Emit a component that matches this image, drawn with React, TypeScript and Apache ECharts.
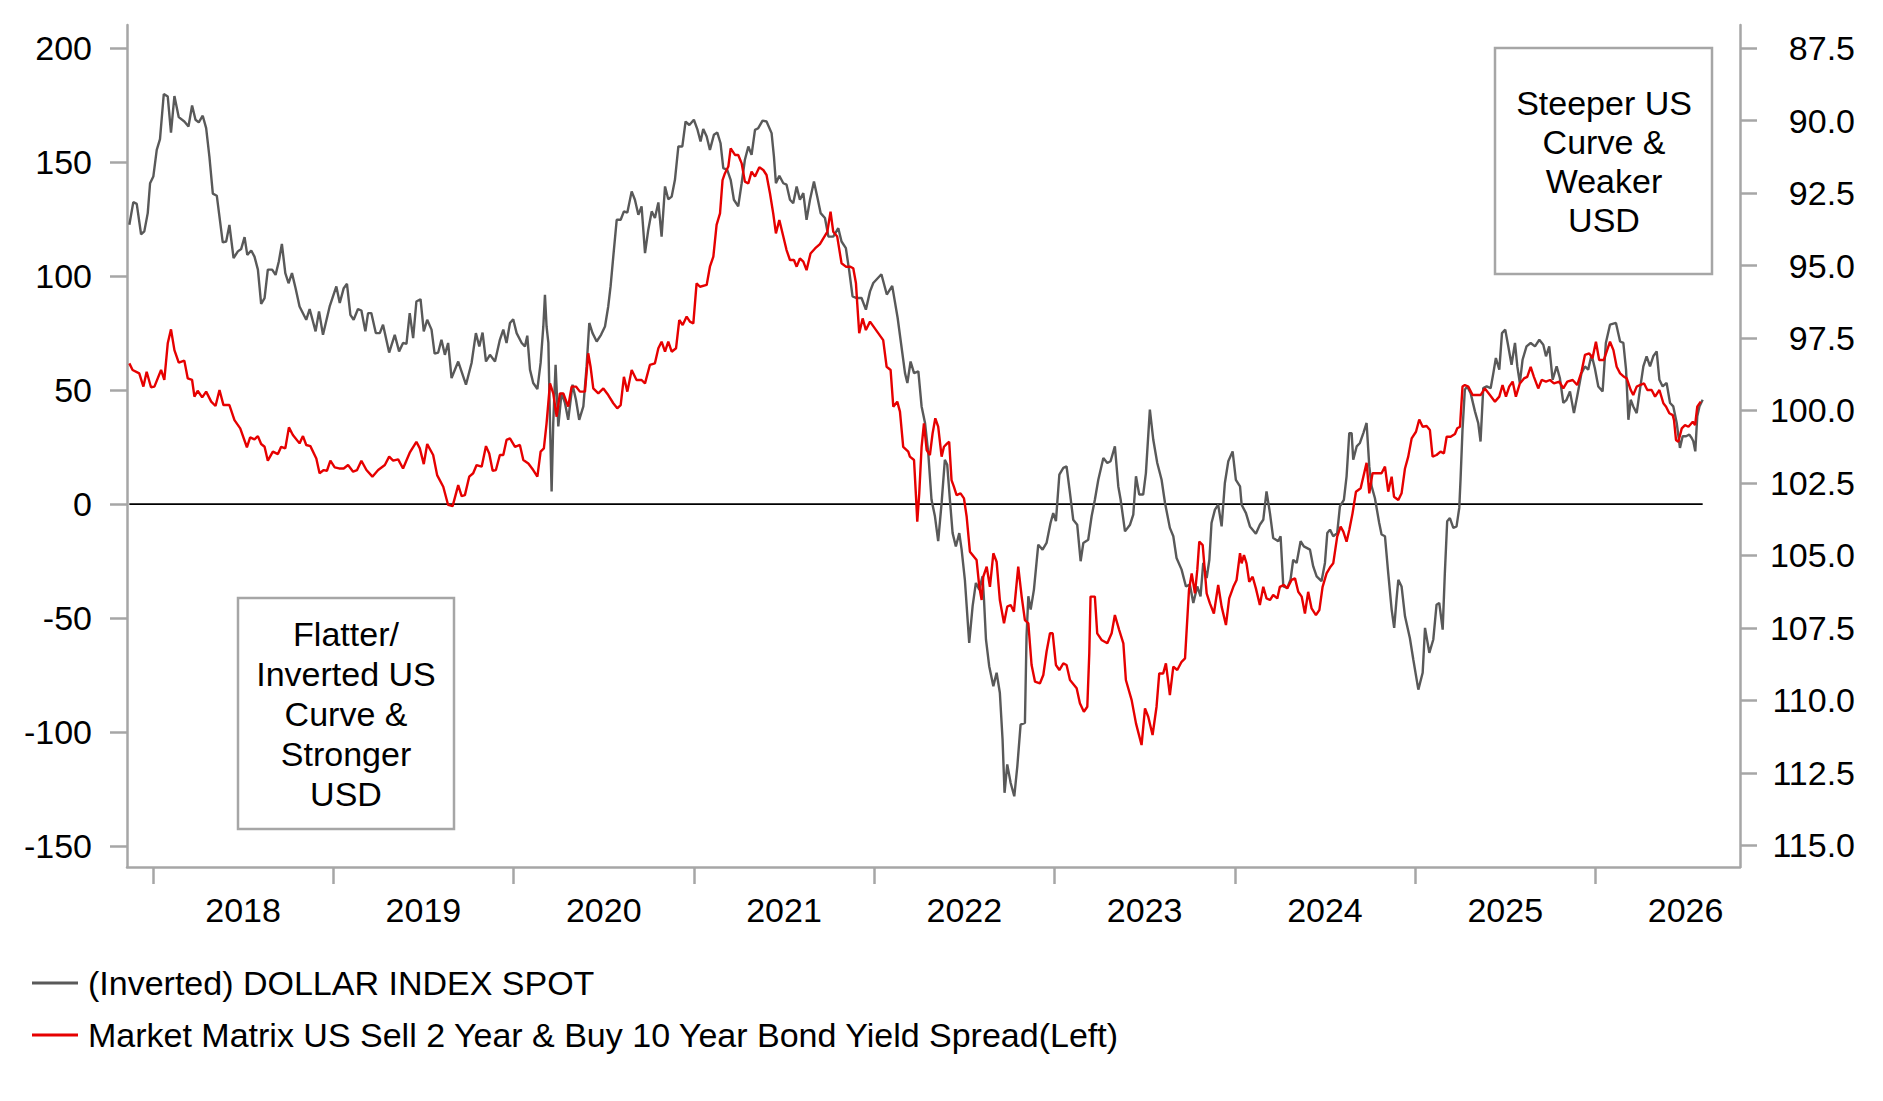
import { useEffect, useRef } from "react";
import * as echarts from "echarts";

const FONT = "'Liberation Sans', Arial, sans-serif";

const leftTicks = [-150, -100, -50, 0, 50, 100, 150, 200];
const rightTicks = [87.5, 90, 92.5, 95, 97.5, 100, 102.5, 105, 107.5, 110, 112.5, 115];
const yearTicks = [2018, 2019, 2020, 2021, 2022, 2023, 2024, 2025, 2026];
const yearLabels = [2018.5, 2019.5, 2020.5, 2021.5, 2022.5, 2023.5, 2024.5, 2025.5, 2026.5];

const dxyName = "(Inverted) DOLLAR INDEX SPOT";
const spreadName = "Market Matrix US Sell 2 Year & Buy 10 Year Bond Yield Spread(Left)";

// [decimal year, dollar index]
const dxyPoints: [number, number][] = [
  [2017.869, 93.59], [2017.891, 92.81], [2017.91, 92.87], [2017.934, 93.92], [2017.952, 93.82],
  [2017.971, 93.19], [2017.984, 92.16], [2018.002, 91.93], [2018.021, 91.01], [2018.039, 90.64],
  [2018.06, 89.08], [2018.082, 89.17], [2018.1, 90.41], [2018.119, 89.15], [2018.143, 89.88],
  [2018.174, 90.03], [2018.197, 90.2], [2018.217, 89.48], [2018.236, 89.97], [2018.254, 90.06],
  [2018.276, 89.83], [2018.295, 90.26], [2018.313, 91.24], [2018.332, 92.52], [2018.354, 92.59],
  [2018.387, 94.2], [2018.406, 94.17], [2018.424, 93.6], [2018.447, 94.74], [2018.471, 94.51],
  [2018.489, 94.43], [2018.508, 94.02], [2018.523, 94.63], [2018.545, 94.48], [2018.563, 94.69],
  [2018.582, 95.14], [2018.6, 96.32], [2018.619, 96.12], [2018.637, 95.14], [2018.661, 95.14],
  [2018.68, 95.32], [2018.698, 94.86], [2018.715, 94.25], [2018.734, 95.26], [2018.752, 95.61],
  [2018.771, 95.26], [2018.791, 95.78], [2018.813, 96.41], [2018.85, 96.87], [2018.869, 96.5],
  [2018.902, 97.27], [2018.921, 96.58], [2018.943, 97.39], [2018.98, 96.41], [2019.017, 95.72],
  [2019.036, 96.29], [2019.058, 95.78], [2019.076, 95.63], [2019.095, 96.7], [2019.113, 96.87],
  [2019.137, 96.5], [2019.156, 96.55], [2019.178, 97.27], [2019.193, 96.64], [2019.211, 96.64],
  [2019.236, 97.33], [2019.258, 97.33], [2019.276, 97.04], [2019.31, 98.0], [2019.341, 97.39],
  [2019.365, 97.96], [2019.387, 97.67], [2019.406, 97.7], [2019.424, 96.64], [2019.443, 97.5],
  [2019.461, 96.24], [2019.484, 96.16], [2019.502, 97.27], [2019.521, 96.87], [2019.545, 97.21],
  [2019.562, 98.04], [2019.582, 98.0], [2019.6, 97.56], [2019.619, 98.08], [2019.637, 97.67],
  [2019.656, 98.88], [2019.693, 98.31], [2019.736, 99.11], [2019.767, 98.36], [2019.791, 97.33],
  [2019.81, 97.79], [2019.828, 97.31], [2019.847, 98.31], [2019.869, 98.08], [2019.897, 98.31],
  [2019.924, 97.56], [2019.943, 97.21], [2019.961, 97.67], [2019.98, 96.98], [2019.998, 96.85],
  [2020.017, 97.33], [2020.045, 97.67], [2020.063, 97.79], [2020.076, 97.42], [2020.091, 98.59],
  [2020.109, 99.05], [2020.132, 99.26], [2020.15, 98.36], [2020.165, 97.1], [2020.174, 96.01],
  [2020.183, 97.1], [2020.193, 97.67], [2020.202, 100.43], [2020.211, 102.79], [2020.22, 100.43],
  [2020.233, 98.42], [2020.248, 100.55], [2020.266, 99.4], [2020.285, 99.74], [2020.303, 100.32],
  [2020.327, 99.11], [2020.346, 99.63], [2020.364, 100.32], [2020.387, 99.86], [2020.405, 98.48],
  [2020.42, 96.98], [2020.438, 97.33], [2020.461, 97.62], [2020.485, 97.39], [2020.507, 97.1],
  [2020.525, 96.41], [2020.538, 95.72], [2020.553, 94.69], [2020.572, 93.42], [2020.594, 93.42],
  [2020.612, 93.13], [2020.631, 93.17], [2020.655, 92.44], [2020.673, 92.73], [2020.692, 93.25],
  [2020.71, 92.96], [2020.729, 94.57], [2020.747, 93.77], [2020.766, 93.13], [2020.784, 93.36],
  [2020.803, 92.82], [2020.821, 94.0], [2020.84, 92.27], [2020.858, 92.71], [2020.877, 92.62],
  [2020.895, 92.04], [2020.914, 90.89], [2020.936, 90.89], [2020.954, 90.03], [2020.975, 90.15],
  [2021.0, 89.97], [2021.019, 90.29], [2021.037, 90.72], [2021.052, 90.29], [2021.071, 90.55],
  [2021.089, 91.01], [2021.111, 90.49], [2021.13, 90.41], [2021.148, 90.78], [2021.163, 91.64],
  [2021.185, 91.7], [2021.204, 92.04], [2021.222, 92.73], [2021.246, 92.96], [2021.265, 92.16],
  [2021.283, 91.35], [2021.302, 90.89], [2021.32, 91.18], [2021.339, 90.32], [2021.357, 90.26],
  [2021.381, 90.0], [2021.403, 90.03], [2021.431, 90.43], [2021.444, 91.24], [2021.455, 92.16],
  [2021.474, 91.9], [2021.496, 92.16], [2021.514, 92.21], [2021.533, 92.73], [2021.551, 92.85],
  [2021.57, 92.27], [2021.588, 92.73], [2021.607, 92.5], [2021.625, 93.42], [2021.644, 92.73],
  [2021.666, 92.1], [2021.684, 92.62], [2021.703, 93.19], [2021.727, 93.36], [2021.746, 94.0],
  [2021.773, 94.0], [2021.801, 93.71], [2021.819, 94.17], [2021.843, 94.4], [2021.862, 95.2],
  [2021.88, 96.06], [2021.903, 96.12], [2021.93, 96.12], [2021.954, 96.52], [2021.977, 95.89],
  [2021.995, 95.6], [2022.04, 95.3], [2022.07, 96.0], [2022.1, 95.7], [2022.13, 96.8],
  [2022.171, 98.71], [2022.184, 99.05], [2022.202, 98.31], [2022.221, 98.71], [2022.245, 98.65],
  [2022.263, 99.86], [2022.282, 100.43], [2022.3, 101.47], [2022.318, 103.08], [2022.337, 103.65],
  [2022.355, 104.51], [2022.374, 103.19], [2022.392, 101.7], [2022.405, 101.87], [2022.42, 103.08],
  [2022.435, 104.23], [2022.453, 104.69], [2022.472, 104.23], [2022.485, 104.8], [2022.503, 105.84],
  [2022.527, 108.02], [2022.546, 106.75], [2022.564, 105.95], [2022.583, 106.18], [2022.601, 105.72],
  [2022.609, 106.52], [2022.62, 107.9], [2022.638, 108.82], [2022.661, 109.51], [2022.679, 109.05],
  [2022.697, 109.74], [2022.712, 111.35], [2022.723, 113.19], [2022.738, 112.21], [2022.757, 112.85],
  [2022.777, 113.31], [2022.794, 112.27], [2022.812, 110.84], [2022.836, 110.78], [2022.845, 107.79],
  [2022.855, 106.41], [2022.868, 106.87], [2022.886, 106.18], [2022.91, 104.63], [2022.934, 104.8],
  [2022.956, 104.57], [2022.978, 103.88], [2022.993, 103.54], [2023.008, 103.82], [2023.027, 102.21],
  [2023.049, 101.98], [2023.067, 101.93], [2023.086, 102.85], [2023.104, 103.77], [2023.126, 103.94],
  [2023.145, 105.2], [2023.16, 104.57], [2023.187, 104.46], [2023.206, 103.65], [2023.224, 103.08],
  [2023.243, 102.39], [2023.271, 101.64], [2023.293, 101.81], [2023.311, 101.75], [2023.335, 101.24],
  [2023.354, 102.62], [2023.367, 103.08], [2023.391, 104.17], [2023.419, 103.94], [2023.437, 103.59],
  [2023.452, 102.27], [2023.47, 102.9], [2023.492, 102.9], [2023.507, 102.16], [2023.529, 99.97],
  [2023.548, 101.01], [2023.57, 101.81], [2023.594, 102.39], [2023.613, 103.19], [2023.64, 104.05],
  [2023.659, 104.34], [2023.677, 105.09], [2023.705, 105.49], [2023.729, 106.07], [2023.751, 106.01],
  [2023.77, 106.64], [2023.792, 106.07], [2023.81, 106.41], [2023.825, 105.26], [2023.844, 105.78],
  [2023.859, 105.15], [2023.871, 103.88], [2023.89, 103.42], [2023.908, 103.25], [2023.927, 104.0],
  [2023.945, 102.5], [2023.964, 101.75], [2023.988, 101.41], [2024.006, 102.39], [2024.029, 102.62],
  [2024.038, 103.25], [2024.062, 103.54], [2024.084, 104.0], [2024.117, 104.25], [2024.139, 103.94],
  [2024.158, 103.77], [2024.176, 102.79], [2024.195, 103.54], [2024.213, 104.4], [2024.241, 104.51],
  [2024.254, 104.34], [2024.269, 106.07], [2024.291, 106.12], [2024.309, 105.84], [2024.324, 105.15],
  [2024.343, 105.26], [2024.365, 104.51], [2024.383, 104.69], [2024.417, 104.8], [2024.435, 105.38],
  [2024.454, 105.72], [2024.481, 105.89], [2024.5, 105.26], [2024.513, 104.23], [2024.528, 104.11],
  [2024.546, 104.34], [2024.568, 104.23], [2024.583, 103.31], [2024.605, 103.08], [2024.62, 102.27],
  [2024.635, 100.78], [2024.648, 100.78], [2024.657, 101.7], [2024.676, 101.24], [2024.694, 101.12],
  [2024.713, 100.78], [2024.731, 100.43], [2024.746, 101.93], [2024.759, 102.62], [2024.777, 103.02],
  [2024.801, 103.88], [2024.814, 104.28], [2024.833, 104.34], [2024.851, 105.61], [2024.87, 106.87],
  [2024.884, 107.5], [2024.897, 106.52], [2024.907, 105.84], [2024.925, 106.07], [2024.944, 107.1],
  [2024.971, 107.85], [2024.99, 108.59], [2025.018, 109.63], [2025.042, 109.05], [2025.055, 107.5],
  [2025.079, 108.36], [2025.101, 107.9], [2025.119, 106.7], [2025.134, 106.64], [2025.153, 107.56],
  [2025.165, 105.61], [2025.178, 103.82], [2025.193, 103.71], [2025.212, 104.05], [2025.23, 104.0],
  [2025.245, 103.36], [2025.252, 102.39], [2025.263, 100.66], [2025.276, 99.28], [2025.289, 99.17],
  [2025.308, 99.4], [2025.332, 100.03], [2025.35, 100.43], [2025.363, 101.07], [2025.378, 99.23],
  [2025.397, 99.17], [2025.419, 99.23], [2025.434, 98.71], [2025.448, 98.19], [2025.467, 98.59],
  [2025.482, 97.33], [2025.5, 97.21], [2025.517, 97.79], [2025.535, 98.42], [2025.554, 97.67],
  [2025.567, 98.48], [2025.581, 99.05], [2025.596, 98.25], [2025.618, 97.79], [2025.641, 97.67],
  [2025.665, 97.79], [2025.689, 97.56], [2025.711, 97.73], [2025.726, 98.13], [2025.744, 97.79],
  [2025.763, 98.94], [2025.785, 98.48], [2025.803, 98.88], [2025.822, 99.74], [2025.84, 99.63],
  [2025.859, 99.34], [2025.881, 100.09], [2025.899, 99.51], [2025.923, 98.71], [2025.942, 98.48],
  [2025.96, 98.59], [2025.979, 98.08], [2025.997, 98.54], [2026.016, 99.17], [2026.04, 99.34],
  [2026.058, 97.67], [2026.081, 97.04], [2026.114, 96.98], [2026.137, 97.62], [2026.155, 97.67],
  [2026.17, 98.59], [2026.183, 100.32], [2026.196, 99.63], [2026.21, 99.86], [2026.229, 100.09],
  [2026.247, 99.28], [2026.266, 98.48], [2026.284, 98.13], [2026.303, 98.48], [2026.321, 98.13],
  [2026.34, 97.96], [2026.355, 98.94], [2026.373, 99.17], [2026.395, 99.05], [2026.414, 99.74],
  [2026.432, 99.86], [2026.451, 100.43], [2026.469, 101.29], [2026.484, 100.89], [2026.503, 100.89],
  [2026.521, 100.83], [2026.534, 100.95], [2026.543, 101.06], [2026.554, 101.41], [2026.565, 100.2],
  [2026.577, 99.86], [2026.595, 99.63],
];

// [decimal year, 2s10s spread in bp]
const spreadPoints: [number, number][] = [
  [2017.869, 61.7], [2017.887, 58.8], [2017.924, 57.3], [2017.947, 51.5], [2017.965, 58.0],
  [2017.989, 51.2], [2018.008, 51.5], [2018.045, 58.8], [2018.063, 54.4], [2018.082, 70.5],
  [2018.1, 76.6], [2018.119, 67.5], [2018.143, 62.0], [2018.174, 62.9], [2018.193, 55.1],
  [2018.217, 54.4], [2018.23, 47.1], [2018.248, 49.7], [2018.273, 46.8], [2018.295, 49.3],
  [2018.323, 44.9], [2018.347, 43.0], [2018.369, 50.0], [2018.391, 43.4], [2018.424, 43.4],
  [2018.452, 36.8], [2018.484, 33.2], [2018.521, 24.9], [2018.539, 29.2], [2018.563, 28.4],
  [2018.582, 29.8], [2018.6, 26.3], [2018.619, 25.1], [2018.637, 19.0], [2018.665, 23.0],
  [2018.693, 21.9], [2018.711, 25.1], [2018.734, 24.4], [2018.754, 33.6], [2018.776, 30.3],
  [2018.813, 26.6], [2018.832, 29.8], [2018.85, 25.9], [2018.873, 25.4], [2018.906, 20.0],
  [2018.924, 13.5], [2018.947, 14.9], [2018.965, 14.6], [2018.984, 19.0], [2019.008, 16.1],
  [2019.032, 15.6], [2019.058, 15.6], [2019.082, 17.1], [2019.11, 14.2], [2019.132, 14.9],
  [2019.156, 19.0], [2019.184, 14.9], [2019.217, 12.0], [2019.249, 14.9], [2019.286, 17.1],
  [2019.31, 20.8], [2019.332, 19.0], [2019.36, 19.6], [2019.387, 15.6], [2019.424, 22.5],
  [2019.461, 27.3], [2019.48, 24.4], [2019.502, 17.5], [2019.521, 26.3], [2019.554, 21.5],
  [2019.576, 12.7], [2019.61, 7.6], [2019.637, -0.4], [2019.662, -0.9], [2019.693, 8.3],
  [2019.712, 3.5], [2019.73, 3.9], [2019.754, 12.0], [2019.776, 13.5], [2019.795, 17.1],
  [2019.823, 16.4], [2019.847, 25.4], [2019.865, 22.2], [2019.884, 14.6], [2019.902, 14.9],
  [2019.924, 21.5], [2019.943, 21.5], [2019.961, 28.1], [2019.98, 28.8], [2020.008, 25.1],
  [2020.035, 25.9], [2020.054, 19.3], [2020.082, 17.8], [2020.109, 14.9], [2020.132, 12.0],
  [2020.15, 23.0], [2020.168, 24.4], [2020.183, 35.4], [2020.202, 52.9], [2020.22, 48.5],
  [2020.239, 38.3], [2020.257, 48.5], [2020.276, 48.5], [2020.303, 42.7], [2020.322, 51.5],
  [2020.346, 51.5], [2020.368, 49.3], [2020.396, 49.3], [2020.414, 66.1], [2020.427, 60.2],
  [2020.442, 50.7], [2020.47, 48.5], [2020.498, 50.7], [2020.525, 47.8], [2020.553, 44.2],
  [2020.575, 42.0], [2020.594, 43.4], [2020.612, 55.8], [2020.631, 49.3], [2020.655, 58.8],
  [2020.682, 54.4], [2020.71, 54.4], [2020.729, 52.9], [2020.756, 61.0], [2020.784, 61.7],
  [2020.803, 68.3], [2020.821, 71.2], [2020.84, 66.8], [2020.858, 71.2], [2020.877, 66.8],
  [2020.901, 68.3], [2020.919, 80.7], [2020.938, 78.5], [2020.96, 82.2], [2020.978, 80.0],
  [2020.997, 79.2], [2021.015, 96.8], [2021.034, 95.3], [2021.071, 96.1], [2021.089, 104.1],
  [2021.108, 108.5], [2021.126, 122.4], [2021.145, 127.5], [2021.159, 142.1], [2021.172, 145.0],
  [2021.191, 148.0], [2021.204, 156.0], [2021.228, 153.1], [2021.246, 153.1], [2021.265, 149.4],
  [2021.283, 141.4], [2021.302, 140.6], [2021.32, 145.8], [2021.339, 143.6], [2021.363, 147.7],
  [2021.385, 146.5], [2021.403, 144.3], [2021.422, 136.3], [2021.44, 127.5], [2021.455, 118.7],
  [2021.474, 124.6], [2021.496, 117.3], [2021.514, 111.4], [2021.533, 107.0], [2021.555, 107.0],
  [2021.57, 104.1], [2021.588, 107.7], [2021.607, 106.3], [2021.625, 102.6], [2021.647, 109.9],
  [2021.672, 112.1], [2021.699, 114.0], [2021.718, 116.5], [2021.74, 119.4], [2021.758, 128.2],
  [2021.773, 119.4], [2021.795, 117.3], [2021.819, 105.6], [2021.843, 104.1], [2021.866, 104.1],
  [2021.884, 103.4], [2021.899, 96.8], [2021.906, 88.0], [2021.917, 74.9], [2021.936, 81.4],
  [2021.954, 76.3], [2021.977, 80.0], [2022.05, 71.9], [2022.069, 60.2], [2022.091, 58.8],
  [2022.106, 42.7], [2022.128, 44.9], [2022.143, 40.5], [2022.161, 25.1], [2022.189, 23.0],
  [2022.198, 20.8], [2022.221, 19.3], [2022.232, 3.2], [2022.239, -7.7], [2022.25, 4.7],
  [2022.263, 25.1], [2022.276, 35.4], [2022.291, 23.7], [2022.309, 21.5], [2022.324, 31.0],
  [2022.339, 37.6], [2022.355, 33.9], [2022.374, 20.8], [2022.387, 25.1], [2022.405, 26.6],
  [2022.416, 27.3], [2022.429, 10.5], [2022.442, 7.6], [2022.457, 3.9], [2022.479, 4.7],
  [2022.498, 2.5], [2022.513, -5.6], [2022.531, -20.9], [2022.568, -24.6], [2022.583, -36.3],
  [2022.596, -42.1], [2022.605, -31.9], [2022.624, -27.5], [2022.642, -36.3], [2022.661, -21.6],
  [2022.679, -25.3], [2022.697, -42.1], [2022.72, -52.3], [2022.738, -45.0], [2022.757, -44.3],
  [2022.775, -47.2], [2022.799, -27.5], [2022.818, -40.6], [2022.836, -50.9], [2022.855, -52.3],
  [2022.873, -70.6], [2022.892, -77.9], [2022.919, -78.7], [2022.938, -75.0], [2022.956, -64.8],
  [2022.975, -56.7], [2022.99, -56.7], [2023.008, -70.6], [2023.027, -72.8], [2023.049, -69.9],
  [2023.067, -70.6], [2023.086, -77.2], [2023.123, -80.8], [2023.141, -87.4], [2023.163, -91.1],
  [2023.182, -88.9], [2023.193, -65.5], [2023.2, -40.6], [2023.224, -40.6], [2023.237, -56.7],
  [2023.261, -59.6], [2023.293, -61.1], [2023.317, -56.7], [2023.335, -48.7], [2023.359, -55.3],
  [2023.382, -61.1], [2023.396, -77.2], [2023.428, -86.0], [2023.452, -96.2], [2023.483, -105.7],
  [2023.502, -89.6], [2023.52, -93.3], [2023.544, -101.3], [2023.566, -88.9], [2023.581, -74.3],
  [2023.603, -74.3], [2023.618, -69.9], [2023.64, -83.8], [2023.659, -71.3], [2023.681, -72.8],
  [2023.705, -69.2], [2023.724, -67.7], [2023.733, -55.3], [2023.746, -37.7], [2023.761, -30.4],
  [2023.779, -39.2], [2023.792, -28.9], [2023.803, -16.5], [2023.822, -18.0], [2023.844, -39.2],
  [2023.862, -43.6], [2023.884, -48.0], [2023.908, -35.5], [2023.927, -45.0], [2023.951, -53.1],
  [2023.969, -41.4], [2023.992, -36.3], [2024.01, -33.3], [2024.029, -21.6], [2024.038, -26.0],
  [2024.051, -22.4], [2024.065, -26.0], [2024.08, -34.1], [2024.099, -31.9], [2024.117, -37.0],
  [2024.139, -44.3], [2024.158, -36.3], [2024.176, -41.4], [2024.195, -42.1], [2024.213, -39.9],
  [2024.236, -41.4], [2024.25, -36.3], [2024.273, -35.5], [2024.291, -37.0], [2024.315, -33.3],
  [2024.334, -32.6], [2024.352, -38.5], [2024.371, -40.6], [2024.389, -48.0], [2024.407, -38.5],
  [2024.426, -45.8], [2024.45, -48.7], [2024.469, -46.5], [2024.487, -36.3], [2024.509, -30.4],
  [2024.531, -27.5], [2024.546, -26.0], [2024.568, -14.3], [2024.587, -9.9], [2024.602, -12.1],
  [2024.62, -16.5], [2024.635, -11.4], [2024.653, -4.1], [2024.672, 5.4], [2024.698, 6.9],
  [2024.713, 12.0], [2024.731, 18.1], [2024.746, 4.7], [2024.764, 13.5], [2024.79, 13.5],
  [2024.814, 13.5], [2024.833, 16.4], [2024.851, 5.4], [2024.87, 12.0], [2024.883, 3.2],
  [2024.907, 1.8], [2024.925, 4.7], [2024.944, 15.6], [2024.962, 20.8], [2024.981, 28.8],
  [2025.005, 31.7], [2025.023, 37.1], [2025.042, 33.9], [2025.064, 34.2], [2025.082, 32.5],
  [2025.097, 20.8], [2025.119, 21.5], [2025.141, 23.0], [2025.16, 22.2], [2025.175, 29.5],
  [2025.197, 29.5], [2025.221, 30.7], [2025.234, 33.2], [2025.249, 33.9], [2025.263, 51.5],
  [2025.276, 52.2], [2025.295, 51.5], [2025.319, 47.8], [2025.341, 47.8], [2025.363, 47.8],
  [2025.387, 50.7], [2025.415, 47.8], [2025.443, 44.9], [2025.467, 47.1], [2025.485, 52.2],
  [2025.504, 47.1], [2025.522, 51.5], [2025.541, 53.7], [2025.559, 47.1], [2025.581, 52.9],
  [2025.604, 55.1], [2025.622, 55.8], [2025.641, 60.2], [2025.659, 55.8], [2025.683, 50.7],
  [2025.702, 54.4], [2025.726, 53.7], [2025.748, 54.4], [2025.77, 52.9], [2025.8, 53.7],
  [2025.822, 50.7], [2025.844, 53.7], [2025.874, 54.4], [2025.899, 52.2], [2025.923, 58.0],
  [2025.942, 65.4], [2025.966, 66.1], [2025.984, 63.9], [2026.003, 71.2], [2026.021, 63.2],
  [2026.047, 63.2], [2026.081, 71.2], [2026.1, 67.5], [2026.118, 60.2], [2026.137, 57.3],
  [2026.159, 55.8], [2026.174, 55.1], [2026.196, 50.0], [2026.21, 47.8], [2026.229, 51.5],
  [2026.247, 52.2], [2026.27, 52.9], [2026.288, 50.0], [2026.312, 50.0], [2026.331, 47.1],
  [2026.355, 50.0], [2026.377, 44.2], [2026.392, 42.7], [2026.41, 39.8], [2026.429, 39.0],
  [2026.436, 36.8], [2026.447, 28.1], [2026.46, 27.3], [2026.479, 33.2], [2026.497, 34.6],
  [2026.516, 33.9], [2026.54, 36.1], [2026.553, 34.6], [2026.565, 42.7], [2026.584, 44.9],
];

const zeroLine: [number, number][] = [
  [2017.869, 0],
  [2026.595, 0],
];

const steeperText = ["Steeper US", "Curve &", "Weaker", "USD"];
const flatterText = ["Flatter/", "Inverted US", "Curve &", "Stronger", "USD"];

const AXIS_GREY = "#a6a6a6";

function App() {
  const chartRef = useRef<HTMLDivElement>(null);

  useEffect(() => {
    const chart = echarts.init(chartRef.current, null, { renderer: "svg" });

    const axisLine = { show: true, onZero: false, lineStyle: { color: AXIS_GREY, width: 2.5 } };
    const labelStyle = { color: "#000", fontSize: 34, fontFamily: FONT };

    const option = {
      animation: false,
      grid: { left: 127, right: 143, top: 25, bottom: 234, containLabel: false, outerBoundsMode: "none" },
      legend: {
        orient: "vertical",
        left: 32,
        top: 966,
        padding: 0,
        itemWidth: 46,
        itemHeight: 3,
        itemGap: 18,
        icon: "rect",
        data: [dxyName, spreadName],
        textStyle: { ...labelStyle, lineHeight: 34, padding: [0, 0, 0, 5] },
      },
      xAxis: {
        type: "value",
        min: 2017.856,
        max: 2026.802,
        axisLine,
        splitLine: { show: false },
        axisTick: {
          show: true,
          length: 17,
          customValues: yearTicks,
          lineStyle: { color: AXIS_GREY, width: 2.5 },
        },
        axisLabel: {
          ...labelStyle,
          margin: 26,
          customValues: yearLabels,
          formatter: (v: number) => String(Math.floor(v)),
        },
      },
      yAxis: [
        {
          type: "value",
          position: "left",
          min: -159.2,
          max: 210.1,
          axisLine,
          splitLine: { show: false },
          axisTick: {
            show: true,
            length: 17,
            customValues: leftTicks,
            lineStyle: { color: AXIS_GREY, width: 2.5 },
          },
          axisLabel: {
            ...labelStyle,
            margin: 35,
            customValues: leftTicks,
            formatter: (v: number) => String(v),
          },
        },
        {
          type: "value",
          position: "right",
          inverse: true,
          min: 86.7,
          max: 115.75,
          axisLine,
          splitLine: { show: false },
          axisTick: {
            show: true,
            length: 17,
            customValues: rightTicks,
            lineStyle: { color: AXIS_GREY, width: 2.5 },
          },
          axisLabel: {
            ...labelStyle,
            align: "right",
            margin: 115,
            customValues: rightTicks,
            formatter: (v: number) => v.toFixed(1),
          },
        },
      ],
      series: [
        {
          name: "zero",
          type: "line",
          yAxisIndex: 0,
          data: zeroLine,
          showSymbol: false,
          silent: true,
          lineStyle: { color: "#000", width: 1.8 },
        },
        {
          name: dxyName,
          type: "line",
          yAxisIndex: 1,
          data: dxyPoints,
          showSymbol: false,
          itemStyle: { color: "#595959" },
          lineStyle: { color: "#595959", width: 2.4 },
        },
        {
          name: spreadName,
          type: "line",
          yAxisIndex: 0,
          data: spreadPoints,
          showSymbol: false,
          itemStyle: { color: "#e60000" },
          lineStyle: { color: "#e60000", width: 2.4 },
        },
      ],
      graphic: [
        {
          type: "rect",
          shape: { x: 1495, y: 48, width: 217, height: 226 },
          style: { fill: "#fff", stroke: AXIS_GREY, lineWidth: 2.5 },
          z: 10,
        },
        {
          type: "text",
          x: 1604,
          y: 161,
          z: 11,
          style: {
            text: steeperText.join("\n"),
            fill: "#000",
            fontSize: 34,
            fontFamily: FONT,
            lineHeight: 39,
            align: "center",
            verticalAlign: "middle",
          },
        },
        {
          type: "rect",
          shape: { x: 238, y: 598, width: 216, height: 231 },
          style: { fill: "#fff", stroke: AXIS_GREY, lineWidth: 2.5 },
          z: 10,
        },
        {
          type: "text",
          x: 346,
          y: 714,
          z: 11,
          style: {
            text: flatterText.join("\n"),
            fill: "#000",
            fontSize: 34,
            fontFamily: FONT,
            lineHeight: 40,
            align: "center",
            verticalAlign: "middle",
          },
        },
      ],
    };

    chart.setOption(option);

    return () => {
      chart.dispose();
    };
  }, []);

  return (
    <div
      ref={chartRef}
      style={{ position: "fixed", left: 0, top: 0, width: 1883, height: 1101, background: "#fff" }}
    />
  );
}

export default App;
